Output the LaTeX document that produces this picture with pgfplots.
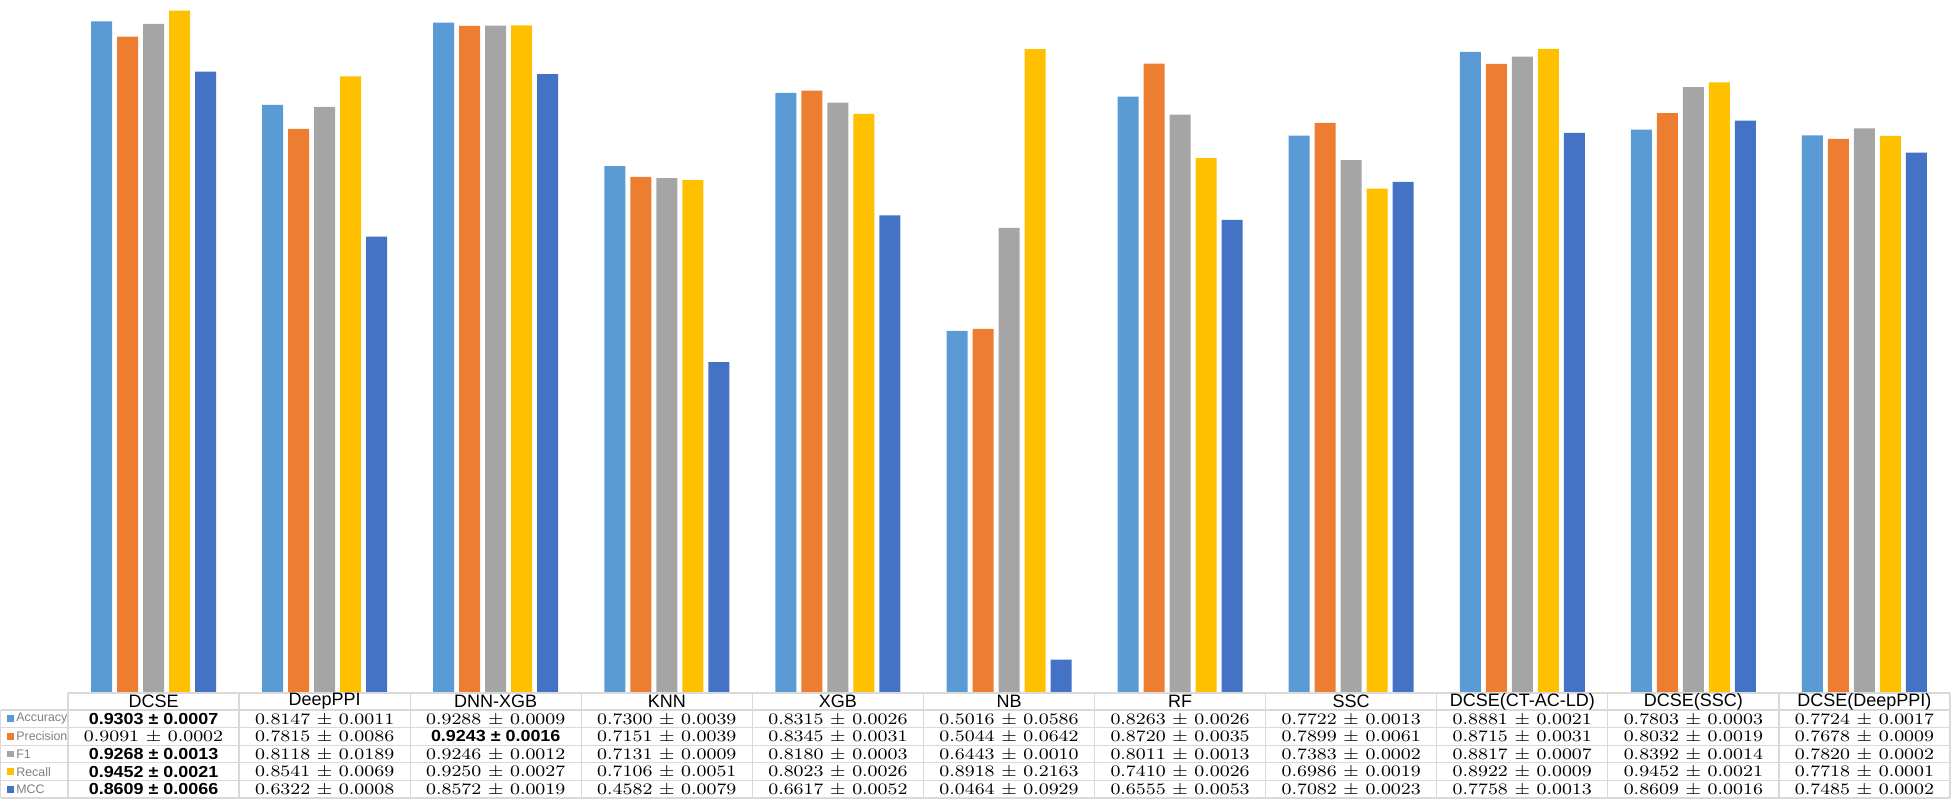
\documentclass[border=0pt]{standalone}
\usepackage{fontspec}
\usepackage{graphicx}
\usepackage{pgfplots}
\usepackage{pgfplotstable}
\pgfplotsset{compat=1.18}
\newfontfamily\arial{Liberation Sans}

\definecolor{cAcc}{HTML}{5B9BD5}
\definecolor{cPrec}{HTML}{ED7D31}
\definecolor{cF1}{HTML}{A5A5A5}
\definecolor{cRec}{HTML}{FFC000}
\definecolor{cMcc}{HTML}{4472C4}
\definecolor{tline}{HTML}{D9D9D9}
\definecolor{lab}{HTML}{7F7F7F}

% plain and bold table cells
\newcommand\nv[1]{\scalebox{1.17}[1]{\fontsize{8}{9}\selectfont #1}}
\newcommand\bv[1]{\scalebox{1.12}[1]{\fontsize{8}{9}\selectfont\arial\bfseries #1}}

% bar heights as drawn (DCSE(SSC) recall/MCC bars differ from its table row)
\pgfplotstableread{
x acc    prec   f1     rec    mcc
0 0.9303 0.9091 0.9268 0.9452 0.8609
1 0.8147 0.7815 0.8118 0.8541 0.6322
2 0.9288 0.9243 0.9246 0.9250 0.8572
3 0.7300 0.7151 0.7131 0.7106 0.4582
4 0.8315 0.8345 0.8180 0.8023 0.6617
5 0.5016 0.5044 0.6443 0.8918 0.0464
6 0.8263 0.8720 0.8011 0.7410 0.6555
7 0.7722 0.7899 0.7383 0.6986 0.7082
8 0.8881 0.8715 0.8817 0.8922 0.7758
9 0.7803 0.8032 0.8392 0.8460 0.7930
10 0.7724 0.7678 0.7820 0.7718 0.7485
}\scores

\newcommand\rowcells[2]{%
  \foreach \v [count=\i from 0] in {#2}
    \node[inner sep=0pt] at ({85.545pt*(\i+0.5)},#1) {\v};}

\begin{document}
\begin{tikzpicture}
\useasboundingbox (-34pt,-55.5pt) rectangle (942pt,346.5pt);
\begin{axis}[
    at={(0,0)}, anchor=south west,
    scale only axis,
    width=941pt, height=346.5pt,
    xmin=-0.5, xmax=10.5,
    ymin=0, ymax=0.96,
    axis lines=none, ticks=none,
    ybar=2.5pt, bar width=10.5pt,
    clip=false,
]
\addplot[draw=none, fill=cAcc]  table[x=x, y=acc]  {\scores};
\addplot[draw=none, fill=cPrec] table[x=x, y=prec] {\scores};
\addplot[draw=none, fill=cF1]   table[x=x, y=f1]   {\scores};
\addplot[draw=none, fill=cRec]  table[x=x, y=rec]  {\scores};
\addplot[draw=none, fill=cMcc]  table[x=x, y=mcc]  {\scores};
\end{axis}

% data table grid
\draw[tline, line width=0.6pt] (0,0) -- (941pt,0);
\foreach \k in {0,...,5}
  \draw[tline, line width=0.6pt] (-33.6pt,{-8.5pt-8.8pt*\k}) -- (941pt,{-8.5pt-8.8pt*\k});
\foreach \i in {0,...,11}
  \draw[tline, line width=0.6pt] ({85.545pt*\i},0) -- ({85.545pt*\i},-52.5pt);
\draw[tline, line width=0.6pt] (-33.6pt,-8.5pt) -- (-33.6pt,-52.5pt);

% column headers
\foreach \n [count=\i from 0] in {DCSE,DeepPPI,DNN-XGB,KNN,XGB,NB,RF,SSC,DCSE(CT-AC-LD),DCSE(SSC),DCSE(DeepPPI)}
  \node[inner sep=0pt, font=\arial\fontsize{9}{10}\selectfont] at ({85.545pt*(\i+0.5)},-4.25pt) {\n};

% row labels with colour keys
\foreach \lb/\col [count=\k] in {Accuracy/cAcc,Precision/cPrec,F1/cF1,Recall/cRec,MCC/cMcc} {
  \fill[\col] (-30.5pt,{-8.5pt-8.8pt*(\k-0.5)-1.7pt}) rectangle ++(3.4pt,3.4pt);
  \node[anchor=west, inner sep=0pt, text=lab, font=\arial\fontsize{6.2}{7}\selectfont]
    at (-26pt,{-8.5pt-8.8pt*(\k-0.5)}) {\lb};
}

% values
\rowcells{-12.9pt}{\bv{0.9303 ± 0.0007},\nv{0.8147 ± 0.0011},\nv{0.9288 ± 0.0009},\nv{0.7300 ± 0.0039},\nv{0.8315 ± 0.0026},\nv{0.5016 ± 0.0586},\nv{0.8263 ± 0.0026},\nv{0.7722 ± 0.0013},\nv{0.8881 ± 0.0021},\nv{0.7803 ± 0.0003},\nv{0.7724 ± 0.0017}}
\rowcells{-21.7pt}{\nv{0.9091 ± 0.0002},\nv{0.7815 ± 0.0086},\bv{0.9243 ± 0.0016},\nv{0.7151 ± 0.0039},\nv{0.8345 ± 0.0031},\nv{0.5044 ± 0.0642},\nv{0.8720 ± 0.0035},\nv{0.7899 ± 0.0061},\nv{0.8715 ± 0.0031},\nv{0.8032 ± 0.0019},\nv{0.7678 ± 0.0009}}
\rowcells{-30.5pt}{\bv{0.9268 ± 0.0013},\nv{0.8118 ± 0.0189},\nv{0.9246 ± 0.0012},\nv{0.7131 ± 0.0009},\nv{0.8180 ± 0.0003},\nv{0.6443 ± 0.0010},\nv{0.8011 ± 0.0013},\nv{0.7383 ± 0.0002},\nv{0.8817 ± 0.0007},\nv{0.8392 ± 0.0014},\nv{0.7820 ± 0.0002}}
\rowcells{-39.3pt}{\bv{0.9452 ± 0.0021},\nv{0.8541 ± 0.0069},\nv{0.9250 ± 0.0027},\nv{0.7106 ± 0.0051},\nv{0.8023 ± 0.0026},\nv{0.8918 ± 0.2163},\nv{0.7410 ± 0.0026},\nv{0.6986 ± 0.0019},\nv{0.8922 ± 0.0009},\nv{0.9452 ± 0.0021},\nv{0.7718 ± 0.0001}}
\rowcells{-48.1pt}{\bv{0.8609 ± 0.0066},\nv{0.6322 ± 0.0008},\nv{0.8572 ± 0.0019},\nv{0.4582 ± 0.0079},\nv{0.6617 ± 0.0052},\nv{0.0464 ± 0.0929},\nv{0.6555 ± 0.0053},\nv{0.7082 ± 0.0023},\nv{0.7758 ± 0.0013},\nv{0.8609 ± 0.0016},\nv{0.7485 ± 0.0002}}
\end{tikzpicture}
\end{document}
